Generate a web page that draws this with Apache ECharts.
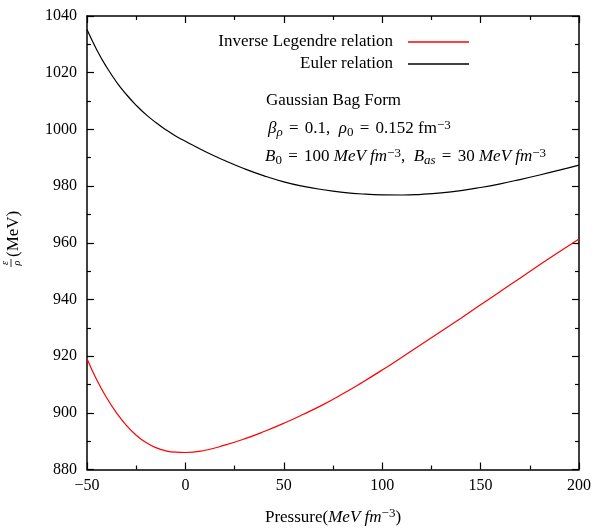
<!DOCTYPE html>
<html>
<head>
<meta charset="utf-8">
<script src="https://cdn.jsdelivr.net/npm/echarts@6/dist/echarts.min.js"></script>
<style>
  html, body { margin: 0; padding: 0; background: #fff; }
  #chart { width: 594px; height: 531px; }
</style>
</head>
<body>
<div id="chart"></div>
<script>
// Pressure values (MeV fm^-3) at which the energy per baryon is sampled
const pressure = [-50, -45, -40, -35, -30, -25, -20, -15, -10, -5, 0,
  10, 20, 30, 40, 50, 60, 70, 80, 90, 100, 110, 120, 130, 140, 150,
  160, 170, 180, 190, 200];

// Energy per baryon ε/ρ (MeV) from the inverse Legendre relation
const inverseLegendre = [919.1, 911.6, 905.3, 900.0, 895.6, 892.1, 889.5,
  887.7, 886.6, 886.1, 886.0, 886.8, 888.6, 890.8, 893.4, 896.3, 899.5,
  902.9, 906.7, 910.8, 915.1, 919.6, 924.2, 928.8, 933.4, 938.1, 942.8,
  947.5, 952.2, 956.8, 961.3];

// Energy per baryon ε/ρ (MeV) from the Euler relation
const euler = [1035.2, 1028.0, 1021.9, 1016.7, 1012.3, 1008.5, 1005.2,
  1002.4, 999.9, 997.7, 995.8, 992.2, 989.0, 986.1, 983.6, 981.5, 979.9,
  978.7, 977.8, 977.2, 976.9, 976.85, 977.1, 977.6, 978.4, 979.5, 980.8,
  982.3, 983.9, 985.6, 987.4];

const seriesNames = ['Inverse Legendre relation', 'Euler relation'];

const xTicks = { min: -50, max: 200, step: 50 };
const yTicks = { min: 880, max: 1040, step: 20 };

const serif = 'Liberation Serif';
const ink = '#000';
const mathRich = {
  r: { fontFamily: serif, fontSize: 17, lineHeight: 20, color: ink },
  eq: { fontFamily: serif, fontSize: 17, lineHeight: 20, color: ink, padding: [0, 2, 0, 2] },
  i: { fontFamily: serif, fontSize: 17, lineHeight: 20, fontStyle: 'italic', color: ink },
  sub: { fontFamily: serif, fontSize: 13, lineHeight: 12, verticalAlign: 'bottom', color: ink },
  isub: { fontFamily: serif, fontSize: 13, lineHeight: 12, verticalAlign: 'bottom', fontStyle: 'italic', color: ink },
  sup: { fontFamily: serif, fontSize: 13, lineHeight: 12, verticalAlign: 'top', color: ink }
};

const pair = (xs, ys) => xs.map((x, k) => [x, ys[k]]);
const minusSign = v => String(v).replace('-', '\u2212');

const frameLine = { show: true, onZero: false, lineStyle: { color: ink, width: 1.5 } };
const majorTick = { show: true, inside: true, length: 7, lineStyle: { color: ink, width: 1.2 } };
const minorTick = { show: true, splitNumber: 2, length: 4, lineStyle: { color: ink, width: 1.2 } };

const legendBase = {
  orient: 'vertical', align: 'right', right: 125, padding: 0,
  icon: 'rect', itemWidth: 61, itemHeight: 1.4, selectedMode: false,
  textStyle: { fontFamily: serif, fontSize: 17, color: ink, lineHeight: 18, padding: [0, 10, 0, 0] }
};

const chart = echarts.init(document.getElementById('chart'), null, { renderer: 'canvas' });

chart.setOption({
  backgroundColor: '#fff',
  animation: false,
  grid: { left: 87, right: 11, top: 16, bottom: 53, containLabel: false },
  legend: [
    Object.assign({}, legendBase, { data: [seriesNames[0]], top: 33 }),
    Object.assign({}, legendBase, { data: [seriesNames[1]], top: 55 })
  ],
  xAxis: [
    {
      type: 'value', position: 'bottom', min: xTicks.min, max: xTicks.max, interval: xTicks.step,
      axisLine: frameLine, axisTick: majorTick, minorTick: minorTick, splitLine: { show: false },
      axisLabel: { fontFamily: serif, fontSize: 16, color: ink, margin: 8, formatter: minusSign },
      name: '{r|Pressure(}{i|MeV fm}{sup|\u22123}{r|)}',
      nameLocation: 'middle', nameGap: 38,
      nameTextStyle: { rich: mathRich }
    },
    {
      type: 'value', position: 'top', min: xTicks.min, max: xTicks.max, interval: xTicks.step,
      axisLine: frameLine, axisTick: majorTick, minorTick: minorTick,
      axisLabel: { show: false }, splitLine: { show: false }
    }
  ],
  yAxis: [
    {
      type: 'value', position: 'left', min: yTicks.min, max: yTicks.max, interval: yTicks.step,
      axisLine: frameLine, axisTick: majorTick, minorTick: minorTick, splitLine: { show: false },
      axisLabel: { fontFamily: serif, fontSize: 16, color: ink, margin: 10, formatter: v => String(v) }
    },
    {
      type: 'value', position: 'right', min: yTicks.min, max: yTicks.max, interval: yTicks.step,
      axisLine: frameLine, axisTick: majorTick, minorTick: minorTick,
      axisLabel: { show: false }, splitLine: { show: false }
    }
  ],
  series: [
    {
      name: seriesNames[0], type: 'line', data: pair(pressure, inverseLegendre),
      smooth: true, symbol: 'none', lineStyle: { color: '#ff0000', width: 1.2 },
      itemStyle: { color: '#ff0000' }
    },
    {
      name: seriesNames[1], type: 'line', data: pair(pressure, euler),
      smooth: true, symbol: 'none', lineStyle: { color: ink, width: 1.2 },
      itemStyle: { color: ink }
    }
  ],
  graphic: [
    // Bag model parameters
    {
      type: 'text', left: 266, top: 92,
      style: { text: 'Gaussian Bag Form', fontFamily: serif, fontSize: 17, fill: ink }
    },
    {
      type: 'text', left: 268, top: 119,
      style: {
        text: '{i|\u03b2}{isub|\u03c1}{eq| = }{r|0.1,  }{i|\u03c1}{sub|0}{eq| = }{r|0.152 fm}{sup|\u22123}',
        rich: mathRich
      }
    },
    {
      type: 'text', left: 265, top: 147,
      style: {
        text: '{i|B}{sub|0}{eq| = }{r|100 }{i|MeV fm}{sup|\u22123}{r|,  }{i|B}{isub|as}{eq| = }{r|30 }{i|MeV fm}{sup|\u22123}',
        rich: mathRich
      }
    },
    // Rotated y-axis title: ε/ρ (MeV)
    {
      type: 'group', x: 14, y: 240, rotation: Math.PI / 2,
      children: [
        { type: 'text', x: -23, y: -4, style: { text: '\u03b5', fontFamily: serif, fontSize: 10, fontStyle: 'italic', fill: ink, align: 'center', verticalAlign: 'bottom' } },
        { type: 'line', shape: { x1: -27, y1: -3, x2: -19, y2: -3 }, style: { stroke: ink, lineWidth: 0.8 } },
        { type: 'text', x: -23, y: -2, style: { text: '\u03c1', fontFamily: serif, fontSize: 10, fontStyle: 'italic', fill: ink, align: 'center', verticalAlign: 'top' } },
        { type: 'text', x: -17, y: 0, style: { text: '(MeV)', fontFamily: serif, fontSize: 17, fill: ink, align: 'left', verticalAlign: 'middle' } }
      ]
    }
  ]
});
</script>
</body>
</html>
